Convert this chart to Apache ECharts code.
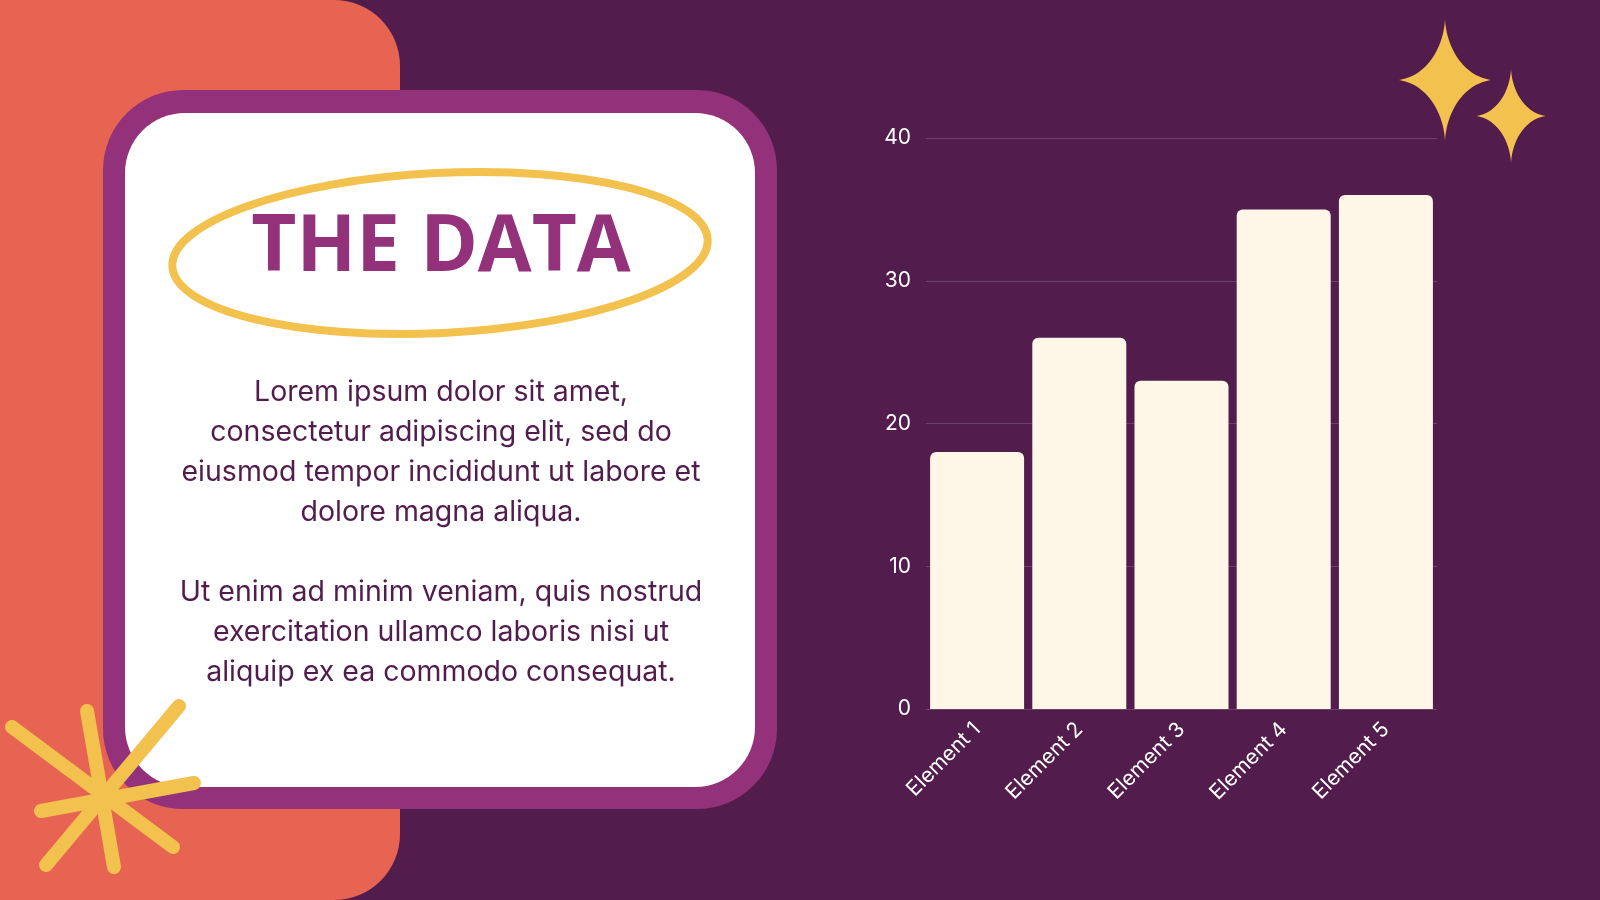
<!DOCTYPE html>
<html>
<head>
<meta charset="utf-8">
<script src="https://cdn.jsdelivr.net/npm/echarts@6/dist/echarts.min.js"></script>
<style>
  html, body { margin: 0; padding: 0; background: #521D4D; }
  #main { width: 1600px; height: 900px; }
</style>
</head>
<body>
<div id="main"></div>
<script>
var chartDom = document.getElementById('main');
var myChart = echarts.init(chartDom, null, { renderer: 'canvas' });

// chart data
var categories = ['Element 1', 'Element 2', 'Element 3', 'Element 4', 'Element 5'];
var values = [18, 26, 23, 35, 36];
var yTicks = { min: 0, max: 40, interval: 10 };

// card text
var titleText = 'THE DATA';
var bodyLines = [
    'Lorem ipsum dolor sit amet,',
    'consectetur adipiscing elit, sed do',
    'eiusmod tempor incididunt ut labore et',
    'dolore magna aliqua.',
    '',
    'Ut enim ad minim veniam, quis nostrud',
    'exercitation ullamco laboris nisi ut',
    'aliquip ex ea commodo consequat.'
];

var yellow = '#F2C14E';
var bodyFont = 'Inter, "Noto Sans", sans-serif';

// four point sparkle outline (astroid-like curve)
function sparkle(cx, cy, w, h) {
    var pts = [];
    for (var i = 0; i < 120; i++) {
        var t = i / 120 * Math.PI * 2;
        var c = Math.cos(t), s = Math.sin(t);
        pts.push([cx + w * Math.sign(c) * Math.pow(Math.abs(c), 3.4),
                  cy + h * Math.sign(s) * Math.pow(Math.abs(s), 3.4)]);
    }
    return pts;
}

var graphics = [
    // orange block on the left
    { type: 'rect', z: 1, shape: { x: -70, y: 0, width: 470, height: 900, r: [0, 66, 66, 0] },
      style: { fill: '#E86452' } },
    // purple frame and white card
    { type: 'rect', z: 2, shape: { x: 103, y: 90, width: 674, height: 719, r: 80 },
      style: { fill: '#93317A' } },
    { type: 'rect', z: 3, shape: { x: 125, y: 113, width: 630, height: 674, r: 60 },
      style: { fill: '#FFFFFF' } },
    // ellipse around the title
    { type: 'ellipse', z: 4, x: 440, y: 253, rotation: 0.05,
      shape: { cx: 0, cy: 0, rx: 268, ry: 80 },
      style: { fill: 'none', stroke: yellow, lineWidth: 8 } },
    { type: 'text', z: 5, x: 441, y: 249,
      style: { text: titleText, fill: '#93317A', font: 'bold 78px "Open Sans", sans-serif',
               textAlign: 'center', textVerticalAlign: 'middle' } },
    // sparkles top right
    { type: 'polygon', z: 4, shape: { points: sparkle(1445, 80, 48, 62) }, style: { fill: yellow } },
    { type: 'polygon', z: 4, shape: { points: sparkle(1511, 116, 36, 48) }, style: { fill: yellow } }
];

// starburst bottom left
var strokes = [
    [[12, 727], [173, 847]],
    [[87, 711], [114, 867]],
    [[179, 706], [46, 865]],
    [[41, 811], [194, 783]]
];
strokes.forEach(function (s) {
    graphics.push({ type: 'line', z: 6,
        shape: { x1: s[0][0], y1: s[0][1], x2: s[1][0], y2: s[1][1] },
        style: { stroke: yellow, lineWidth: 14, lineCap: 'round' } });
});

bodyLines.forEach(function (line, i) {
    if (!line) return;
    graphics.push({ type: 'text', z: 5, x: 441, y: 392 + i * 40,
        style: { text: line, fill: '#521D4D', font: '28.5px ' + bodyFont,
                 textAlign: 'center', textVerticalAlign: 'middle' } });
});

var option = {
    backgroundColor: '#521D4D',
    animation: false,
    graphic: graphics,
    grid: { left: 926, top: 138, width: 511, height: 571 },
    xAxis: {
        type: 'category',
        data: categories,
        axisLine: { show: false },
        axisTick: { show: false },
        axisLabel: { color: '#FFFFFF', fontSize: 21, fontFamily: bodyFont, rotate: 45, margin: 17 }
    },
    yAxis: {
        type: 'value',
        min: yTicks.min,
        max: yTicks.max,
        interval: yTicks.interval,
        axisLine: { show: false },
        axisTick: { show: false },
        axisLabel: { color: '#FFFFFF', fontSize: 21, fontFamily: bodyFont, margin: 15 },
        splitLine: { lineStyle: { color: 'rgba(255,255,255,0.16)', width: 1 } }
    },
    series: [
        {
            type: 'bar',
            data: values,
            barWidth: 94,
            itemStyle: { color: '#FEF6E7', borderRadius: [6, 6, 0, 0] }
        }
    ]
};

option && myChart.setOption(option);
</script>
</body>
</html>
